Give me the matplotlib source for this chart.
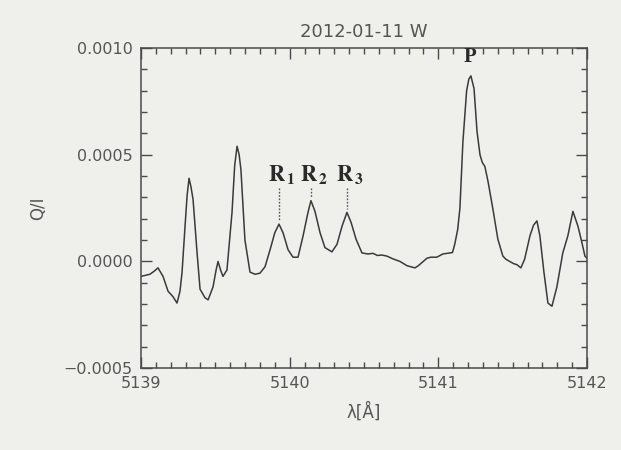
import numpy as np
import matplotlib.pyplot as plt
from matplotlib.ticker import MultipleLocator, FuncFormatter

# Q/I spectrum, 2012-01-11, W position (Q/I in units of 1e-4)
wavelength = [
    5139.000, 5139.030, 5139.060, 5139.090, 5139.114, 5139.148, 5139.182, 5139.215, 5139.242, 5139.262,
    5139.276, 5139.296, 5139.310, 5139.323, 5139.336, 5139.350, 5139.377, 5139.397, 5139.430, 5139.451,
    5139.484, 5139.505, 5139.518, 5139.535, 5139.551, 5139.578, 5139.612, 5139.630, 5139.646, 5139.660,
    5139.672, 5139.699, 5139.733, 5139.767, 5139.800, 5139.834, 5139.868, 5139.900, 5139.928, 5139.955,
    5139.989, 5140.022, 5140.056, 5140.090, 5140.123, 5140.143, 5140.170, 5140.204, 5140.237, 5140.284,
    5140.318, 5140.352, 5140.385, 5140.412, 5140.446, 5140.486, 5140.527, 5140.560, 5140.590, 5140.620,
    5140.654, 5140.695, 5140.742, 5140.789, 5140.815, 5140.843, 5140.865, 5140.890, 5140.923, 5140.950,
    5140.990, 5141.030, 5141.078, 5141.095, 5141.110, 5141.130, 5141.145, 5141.165, 5141.190, 5141.205,
    5141.219, 5141.240, 5141.260, 5141.280, 5141.295, 5141.313, 5141.334, 5141.367, 5141.400, 5141.434,
    5141.455, 5141.480, 5141.505, 5141.528, 5141.555, 5141.580, 5141.616, 5141.640, 5141.663, 5141.683,
    5141.710, 5141.737, 5141.764, 5141.797, 5141.837, 5141.871, 5141.905, 5141.939, 5141.965, 5141.986,
    5142.000,
]
q_over_i = [
    -0.70, -0.65, -0.60, -0.45, -0.30, -0.70, -1.40, -1.65, -1.95, -1.40,
    -0.50, 1.65, 3.10, 3.90, 3.50, 2.90, 0.40, -1.30, -1.70, -1.80,
    -1.20, -0.40, 0.00, -0.40, -0.70, -0.40, 2.30, 4.50, 5.40, 5.00,
    4.30, 1.00, -0.50, -0.60, -0.55, -0.25, 0.55, 1.35, 1.75, 1.35,
    0.55, 0.20, 0.20, 1.20, 2.30, 2.85, 2.35, 1.35, 0.65, 0.45,
    0.80, 1.65, 2.30, 1.85, 1.05, 0.40, 0.35, 0.38, 0.28, 0.30,
    0.25, 0.12, 0.00, -0.20, -0.25, -0.30, -0.20, -0.05, 0.15, 0.20,
    0.20, 0.35, 0.40, 0.42, 0.80, 1.50, 2.50, 5.60, 8.00, 8.55,
    8.70, 8.10, 6.10, 5.00, 4.65, 4.45, 3.75, 2.45, 1.05, 0.25,
    0.10, 0.00, -0.10, -0.15, -0.30, 0.10, 1.20, 1.70, 1.90, 1.20,
    -0.50, -1.95, -2.10, -1.20, 0.40, 1.20, 2.35, 1.65, 0.90, 0.25,
    0.15,
]

# line identifications: label, wavelength, lower end of the dotted guide (1e-4)
marks = [r'$\mathbf{R}_{\,\mathbf{1}}$', r'$\mathbf{R}_{\,\mathbf{2}}$', r'$\mathbf{R}_{\,\mathbf{3}}$']
mark_wl = [5139.928, 5140.143, 5140.385]
mark_bottom = [1.9, 3.0, 2.45]

paper = '#efefec'
ink = '#4a4a4a'

plt.rcParams['mathtext.fontset'] = 'stix'

fig = plt.figure(figsize=(6.21, 4.5), dpi=100, facecolor=paper)
ax = fig.add_axes([0.2271, 0.182, 0.7182, 0.711], facecolor=paper)

q = np.array(q_over_i) * 1e-4
ax.plot(wavelength, q, color='#3a3a3a', lw=1.1)

for lab, wl, yb in zip(marks, mark_wl, mark_bottom):
    ax.plot([wl, wl], [3.45e-4, yb * 1e-4], ls=(0, (1.2, 1.2)), color='#555555', lw=1)
    ax.text(wl + 0.02, 3.55e-4, lab, ha='center', va='bottom', fontsize=16,
            color='#2a2a2a')
ax.text(5141.21, 9.1e-4, 'P', ha='center', va='bottom', fontsize=15,
        family='Liberation Serif', weight='bold', color='#2a2a2a')

ax.set_xlim(5139, 5142)
ax.set_ylim(-0.0005, 0.0010)
ax.xaxis.set_major_locator(MultipleLocator(1))
ax.xaxis.set_minor_locator(MultipleLocator(0.1))
ax.yaxis.set_major_locator(MultipleLocator(0.0005))
ax.yaxis.set_minor_locator(MultipleLocator(0.0001))
ax.xaxis.set_major_formatter(FuncFormatter(lambda v, p: '%d' % round(v)))
ax.yaxis.set_major_formatter(FuncFormatter(lambda v, p: ('%.4f' % v).replace('-', '\u2212')))

ax.tick_params(which='both', direction='in', top=True, right=True, colors=ink,
               labelsize=11.5, labelcolor='#555555', width=1)
ax.tick_params(which='major', length=8, pad=6)
ax.tick_params(which='minor', length=4)
for s in ax.spines.values():
    s.set_color(ink)
    s.set_linewidth(1.1)

ax.set_title('2012-01-11 W', fontsize=13, color='#555555', pad=8)
ax.set_xlabel('λ[Å]', fontsize=12, color='#555555', labelpad=8)
ax.set_ylabel('Q/I', fontsize=12, color='#555555', labelpad=12)

fig.savefig('out.png', dpi=100, facecolor=paper)
